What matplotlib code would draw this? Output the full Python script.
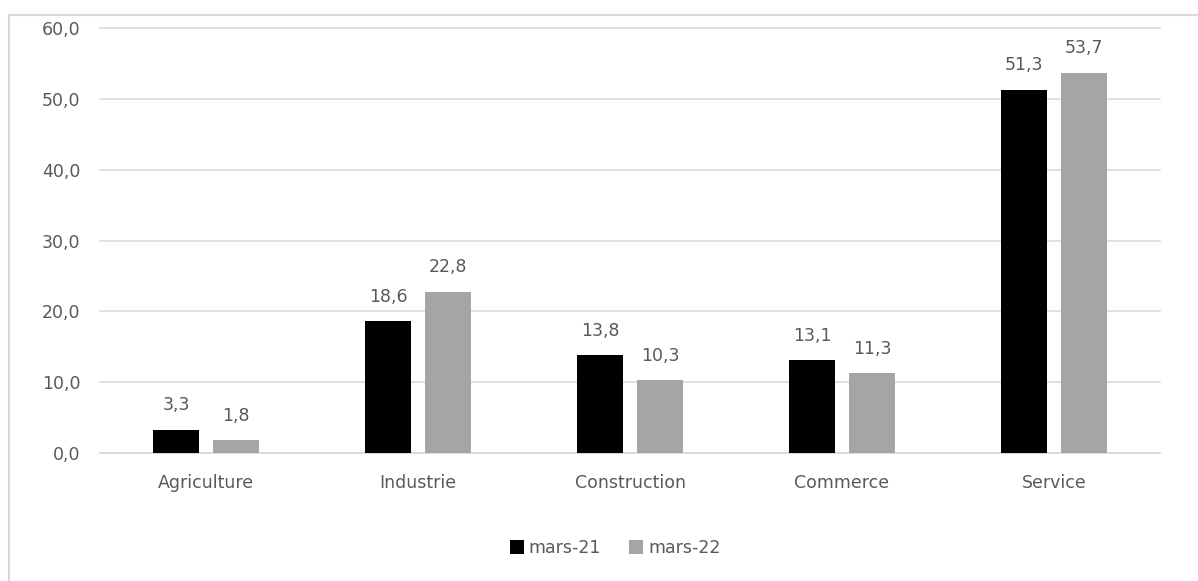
import matplotlib
matplotlib.use("Agg")
import matplotlib.pyplot as plt
from matplotlib.patches import Rectangle
import numpy as np

categories = ["Agriculture", "Industrie", "Construction", "Commerce", "Service"]
mars21 = [3.3, 18.6, 13.8, 13.1, 51.3]
mars22 = [1.8, 22.8, 10.3, 11.3, 53.7]
series_labels = ["mars-21", "mars-22"]
yticks = [0, 10, 20, 30, 40, 50, 60]

TEXT = "#595959"
GRID = "#d9d9d9"
FS = 12.5
plt.rcParams["font.family"] = ["DejaVu Sans"]

fig = plt.figure(figsize=(11.98, 5.81), dpi=100)
fig.patch.set_facecolor("white")

# chart frame
fig.add_artist(Rectangle((8.5 / 1198, -0.05), 1.2, 1 - 14.5 / 581 + 0.05,
                         transform=fig.transFigure, fill=False,
                         edgecolor=GRID, linewidth=1.5))

ax = fig.add_axes([100 / 1198, 1 - 453 / 581, 1060 / 1198, 425 / 581])

x = np.arange(len(categories))
w = 0.217
off = 0.141
b1 = ax.bar(x - off, mars21, w, color="#000000", label=series_labels[0], zorder=3)
b2 = ax.bar(x + off, mars22, w, color="#a5a5a5", label=series_labels[1], zorder=3)

for bars, vals in ((b1, mars21), (b2, mars22)):
    for rect, v in zip(bars, vals):
        ax.annotate(f"{v:.1f}".replace(".", ","),
                    (rect.get_x() + rect.get_width() / 2, v),
                    xytext=(0, 11), textcoords="offset points",
                    ha="center", va="bottom", fontsize=FS, color=TEXT)

ax.set_xlim(-0.5, len(categories) - 0.5)
ax.set_ylim(0, 60)
ax.set_yticks(yticks)
ax.set_yticklabels([f"{t:.1f}".replace(".", ",") for t in yticks])
ax.set_xticks(x)
ax.set_xticklabels(categories)
ax.tick_params(axis="both", length=0, labelsize=FS, colors=TEXT)
ax.tick_params(axis="y", pad=14)
ax.tick_params(axis="x", pad=15)
ax.grid(axis="y", color=GRID, linewidth=1.1, zorder=0)
for gl in ax.get_ygridlines():
    gl.set_clip_on(False)
for s in ("top", "right", "left"):
    ax.spines[s].set_visible(False)
ax.spines["bottom"].set_color(GRID)
ax.spines["bottom"].set_linewidth(1.1)

fig.legend(handles=[b1, b2], labels=series_labels, loc="center",
           bbox_to_anchor=(615 / 1198, 1 - 548 / 581), ncol=2, frameon=False,
           fontsize=FS, labelcolor=TEXT, handlelength=0.8, handleheight=0.8,
           handletextpad=0.3, columnspacing=1.6)

fig.savefig("out.png", dpi=100, facecolor="white")
